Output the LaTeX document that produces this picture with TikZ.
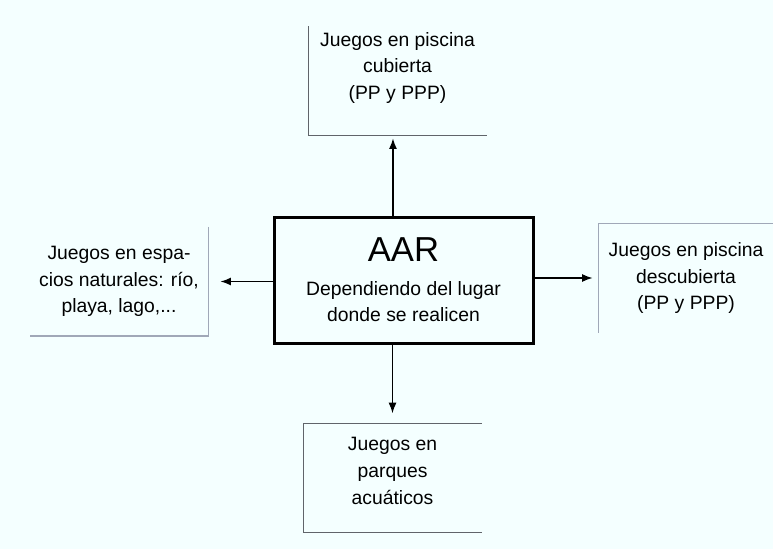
\documentclass[tikz,border=0pt]{standalone}
\usepackage{fontspec}
\setmainfont{Liberation Sans}
\usetikzlibrary{arrows.meta}
\definecolor{fondo}{RGB}{244,255,255}
\definecolor{bordeosc}{RGB}{96,100,106}
\definecolor{bordecla}{RGB}{160,168,184}
\tikzset{
    caja/.style={minimum width=133.5pt, minimum height=81.5pt, inner sep=0pt},
    texto/.style={align=center, font=\fontsize{14.5}{20}\selectfont},
    centro/.style={draw, line width=2.25pt, minimum width=194.25pt, minimum height=94.5pt, align=center, font=\fontsize{14.5}{19.5}\selectfont},
    flecha/.style={-{Latex[length=8pt,width=6pt]}, line width=1.2pt},
    ladoosc/.style={draw=bordeosc, line width=1.1pt},
    ladocla/.style={draw=bordecla, line width=1pt}
}
\begin{document}
\begin{tikzpicture}[x=0.75pt,y=-0.75pt]
    \fill[fondo] (0,0) rectangle (773,549);
    \useasboundingbox (0,0) rectangle (773,549);
    % caja central
    \node[centro] (aar) at (403.5,280) {{\fontsize{26}{26}\selectfont AAR}\\[6pt]Dependiendo del lugar\\donde se realicen};
    % cajas de alrededor
    \node[caja] (cubierta) at (397.5,81) {};
    \node[texto, yshift=9.75pt] (cubiertatxt) at (cubierta) {Juegos en piscina\\cubierta\\(PP y PPP)};
    \node[caja] (naturales) at (119,281.5) {};
    \node[texto] (naturalestxt) at (naturales) {Juegos en espa-\\cios naturales: río,\\playa, lago,...};
    \node[caja] (descubierta) at (688,278) {};
    \node[texto, xshift=-1.5pt] (descubiertatxt) at (descubierta) {Juegos en piscina\\descubierta\\(PP y PPP)};
    \node[caja] (parques) at (392.5,478) {};
    \node[texto, yshift=5.25pt] (parquestxt) at (parques) {Juegos en\\parques\\acuáticos};
    % bordes visibles
    \draw[ladoosc] (cubierta.north west) -- (cubierta.south west) -- (cubierta.south east);
    \draw[ladocla] (naturales.north east) -- (naturales.south east) -- (naturales.south west);
    \draw[ladocla] (descubierta.south west) -- (descubierta.north west) -- (descubierta.north east);
    \draw[ladoosc] (parques.north east) -- (parques.north west) -- (parques.south west) -- (parques.south east);
    % flechas
    \draw[flecha, shorten >=2pt] ([xshift=-3.4pt]aar.north -| cubierta.south) -- ([xshift=-3.4pt]cubierta.south);
    \draw[flecha, shorten >=9pt] (aar.west |- naturales.east) -- (naturales.east);
    \draw[flecha, shorten >=4.5pt] (aar.east |- descubierta.west) -- (descubierta.west);
    \draw[flecha, shorten >=7.5pt] (aar.south -| parques.north) -- (parques.north);
\end{tikzpicture}
\end{document}
